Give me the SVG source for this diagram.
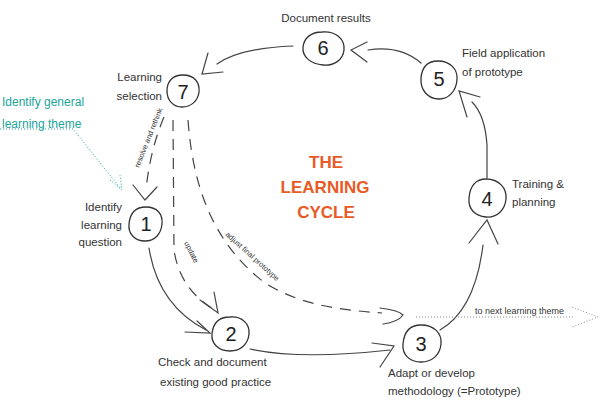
<svg xmlns="http://www.w3.org/2000/svg" width="600" height="411" viewBox="0 0 600 411">
<defs>
<style>
.n{fill:none;stroke:#333;stroke-width:1.3}
.c{fill:none;stroke:#444;stroke-width:1.2;stroke-linecap:round}
.d{fill:none;stroke:#444;stroke-width:1.2;stroke-dasharray:11 8}
.t{font-family:"Liberation Sans",Arial,sans-serif;font-size:11.5px;fill:#333}
.num{font-family:"Liberation Sans",Arial,sans-serif;font-size:20px;fill:#222;text-anchor:middle}
.s{font-family:"Liberation Sans",Arial,sans-serif;font-size:7.5px;fill:#333;stroke:#fff;stroke-width:2.5px;paint-order:stroke}
.teal{font-family:"Liberation Sans",Arial,sans-serif;font-size:12px;fill:#1aa39a}
.title{font-family:"Liberation Sans",Arial,sans-serif;font-size:17px;font-weight:bold;fill:#e85a26;text-anchor:middle}
.dot{fill:none;stroke:#8a8a8a;stroke-width:1;stroke-dasharray:1 2}
.tdot{fill:none;stroke:#1aa39a;stroke-width:1;stroke-dasharray:1 2}
</style>
</defs>
<rect width="600" height="411" fill="#fff"/>

<g id="title">
<text class="title" x="326" y="168">THE</text>
<text class="title" x="325" y="193">LEARNING</text>
<text class="title" x="326" y="218">CYCLE</text>
</g>

<g id="theme">
<text class="teal" x="2" y="106">Identify general</text>
<text class="teal" x="2" y="128">learning theme</text>
</g>

<g id="connectors">
<path class="tdot" d="M0 129 H73 L121 189"/>
<path class="tdot" d="M110 180 L122 190 L120 175"/>
<path class="d" d="M164 117 Q150 150 146 190"/>
<path class="c" d="M133 185 L145 200 L157 187"/>
<text class="s" transform="translate(139 168) rotate(-68)">resolve and rethink</text>
<path class="d" d="M173 120 L174 250 Q180 290 215 310"/>
<path class="c" d="M200 300 L218 313 L214 292"/>
<text class="s" transform="translate(184 243) rotate(63)">update</text>
<path class="d" d="M188 120 C193 190 215 245 265 283 C300 305 340 310 382 313"/>
<path class="c" d="M380 308 Q398 310 403 315 Q398 322 383 324"/>
<text class="s" transform="translate(225 235) rotate(42)">adjust final prototype</text>
<path class="c" d="M149 248 Q158 305 206 330"/>
<path class="c" d="M185 332 L210 333 L197 321"/>
<path class="c" d="M250 349 Q300 360 390 350"/>
<path class="c" d="M372 343 L394 346 L380 367"/>
<path class="c" d="M440 330 Q475 310 483 245"/>
<path class="c" d="M469 243 L487 220 L498 244"/>
<path class="c" d="M487 178 L487 145 Q485 115 472 102"/>
<path class="c" d="M480 97 L459 91 L467 117"/>
<path class="c" d="M421 63 Q400 45 368 50"/>
<path class="c" d="M367 42 L351 50 L367 62"/>
<path class="c" d="M293 46 Q240 48 217 64"/>
<path class="c" d="M208 53 L202 74 L223 72"/>
<path class="dot" d="M416 317 H573"/>
<path class="dot" d="M572 307 L598 317 L572 327"/>
<text class="s" x="475" y="314" style="font-size:9px">to next learning theme</text>
</g>

<g id="node7">
<path class="n" d="M183 75 C194 75 200 82 199 92 C198 101 191 107 182 107 C173 107 167 100 167 91 C167 81 173 75 183 75 Z"/>
<text class="num" x="183" y="99">7</text>
<text class="t" x="162" y="81" text-anchor="end">Learning</text>
<text class="t" x="162" y="100" text-anchor="end">selection</text>
</g>

<g id="node1">
<path class="n" d="M146 207 C157 207 163 214 162 224 C161 234 155 241 145 241 C135 241 128 234 129 224 C130 213 136 207 146 207 Z"/>
<text class="num" x="146" y="231">1</text>
<text class="t" x="122" y="211" text-anchor="end">Identify</text>
<text class="t" x="122" y="229" text-anchor="end">learning</text>
<text class="t" x="122" y="246" text-anchor="end">question</text>
</g>

<g id="node2">
<path class="n" d="M230 317 C242 316 250 324 249 334 C248 344 241 351 230 351 C219 351 211 344 212 334 C213 323 219 317 230 317 Z"/>
<text class="num" x="231" y="341">2</text>
<text class="t" x="158" y="366">Check and document</text>
<text class="t" x="160" y="386">existing good practice</text>
</g>

<g id="node3">
<path class="n" d="M421 325 C434 325 442 333 441 344 C440 355 432 362 421 362 C410 362 402 355 403 344 C404 332 410 325 421 325 Z"/>
<text class="num" x="421" y="351">3</text>
<text class="t" x="388" y="377">Adapt or develop</text>
<text class="t" x="388" y="395">methodology (=Prototype)</text>
</g>

<g id="node4">
<path class="n" d="M486 179 C499 179 507 188 506 199 C505 210 497 218 486 217 C475 216 468 209 469 198 C470 186 476 179 486 179 Z"/>
<text class="num" x="487" y="206">4</text>
<text class="t" x="512" y="188">Training &amp;</text>
<text class="t" x="512" y="206">planning</text>
</g>

<g id="node5">
<path class="n" d="M438 61 C450 61 458 69 457 80 C456 91 449 99 439 99 C428 99 420 90 421 78 C422 67 428 61 438 61 Z"/>
<text class="num" x="439" y="86">5</text>
<text class="t" x="462" y="57">Field application</text>
<text class="t" x="462" y="76">of prototype</text>
</g>

<g id="node6">
<path class="n" d="M322 32 C336 31 345 39 344 50 C343 60 334 66 323 65 C311 64 302 57 303 47 C304 38 311 32 322 32 Z"/>
<text class="num" x="323" y="55">6</text>
<text class="t" x="326" y="22" text-anchor="middle">Document results</text>
</g>
</svg>
